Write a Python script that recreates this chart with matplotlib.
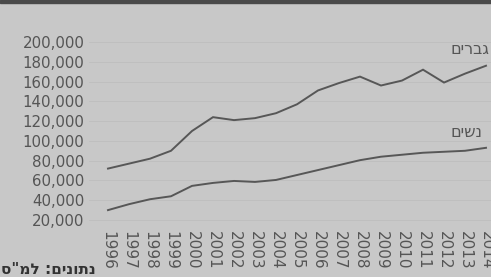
import matplotlib
matplotlib.use("Agg")
import matplotlib.pyplot as plt
from matplotlib.patches import Rectangle

years = list(range(1996, 2015))
men = [72000, 77000, 82000, 90000, 110000, 124000, 121000, 123000, 128000,
       137000, 151000, 158500, 165000, 156000, 161000, 172000, 159000, 168000, 176000]
women = [30000, 36000, 41000, 44000, 54500, 57500, 59500, 58500, 60500,
         65500, 70500, 75500, 80500, 84000, 86000, 88000, 89000, 90000, 93000]
yticks = [20000, 40000, 60000, 80000, 100000, 120000, 140000, 160000, 180000, 200000]
men_label = "גברים"
women_label = "נשים"
source = "נתונים: למ\"ס"

W, H = 491, 277
bg = "#c8c8c8"
ink = "#555555"
fig = plt.figure(figsize=(W / 100, H / 100), dpi=100, facecolor=bg)

def fx(px):
    return px / W

def fy(py):
    return 1 - py / H

ax = fig.add_axes([fx(108), fy(220), fx(486) - fx(108), fy(42) - fy(220)])
ax.set_facecolor(bg)
ax.set_xlim(1996, 2014)
ax.set_ylim(20000, 200000)
for s in ax.spines.values():
    s.set_visible(False)

ax.set_yticks(yticks)
ax.set_yticklabels([f"{v:,}" for v in yticks], fontsize=10.8, color=ink,
                   family="DejaVu Sans")
ax.set_xticks(years)
ax.set_xticklabels([str(y) for y in years], rotation=270, fontsize=11,
                   color=ink, family=["Liberation Sans Narrow", "DejaVu Sans"])
ax.tick_params(axis="y", length=0, pad=17)
ax.tick_params(axis="x", length=0, pad=8)
for v in yticks:
    ax.axhline(v, color="#bebebe", lw=0.6, zorder=0, clip_on=False,
               xmin=-0.05, xmax=1.05)

ax.plot(years, men, color="#575757", lw=1.4, clip_on=False, solid_joinstyle="miter")
ax.plot(years, women, color="#575757", lw=1.4, clip_on=False)

# top dark band
fig.patches.append(Rectangle((0, fy(3)), 1, 1 - fy(3), transform=fig.transFigure,
                             color="#4a4a4a", zorder=5))

fig.text(fx(450), fy(50), men_label[::-1], fontsize=11.5, color=ink,
         ha="left", va="center")
fig.text(fx(450), fy(133), women_label[::-1], fontsize=11.5, color=ink,
         ha="left", va="center")
fig.text(fx(1), fy(270), source[::-1], fontsize=11, color="#333333",
         fontweight="bold", ha="left", va="center")

fig.savefig("out.png", dpi=100, facecolor=bg)
